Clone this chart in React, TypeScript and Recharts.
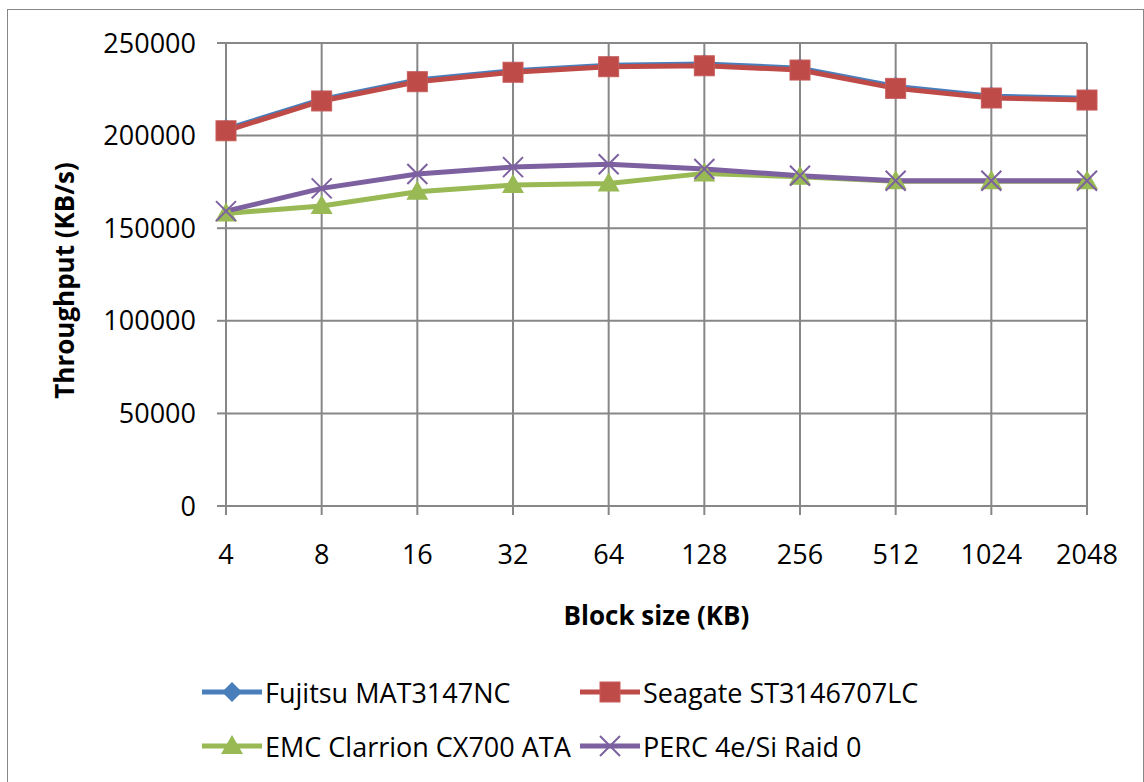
import { CartesianGrid, Label, Line, LineChart, XAxis, YAxis } from 'recharts';

const blockSizes = ['4', '8', '16', '32', '64', '128', '256', '512', '1024', '2048'];
const fujitsu = [203500, 219500, 230000, 235000, 238000, 238700, 236400, 226500, 221200, 220200];
const seagate = [202600, 218700, 229100, 234200, 237200, 237700, 235400, 225500, 220300, 219200];
const emc = [158000, 162000, 169700, 173300, 174200, 179600, 177800, 175300, 175300, 175300];
const perc = [159200, 171500, 179300, 183000, 184500, 182000, 178300, 175600, 175600, 175600];
const yTicks = [0, 50000, 100000, 150000, 200000, 250000];

const FONT = "'Open Sans', sans-serif";
const GRID = '#878787';

type Marker = 'diamond' | 'square' | 'triangle' | 'cross';

const SERIES: { key: string; label: string; color: string; marker: Marker; values: number[] }[] = [
  { key: 'fujitsu', label: 'Fujitsu MAT3147NC', color: '#4a7ebb', marker: 'diamond', values: fujitsu },
  { key: 'seagate', label: 'Seagate ST3146707LC', color: '#be4b48', marker: 'square', values: seagate },
  { key: 'emc', label: 'EMC Clarrion CX700 ATA', color: '#98b954', marker: 'triangle', values: emc },
  { key: 'perc', label: 'PERC 4e/Si Raid 0', color: '#7d60a0', marker: 'cross', values: perc },
];

const data = blockSizes.map((block, i) => {
  const row: Record<string, string | number> = { block };
  SERIES.forEach((s) => {
    row[s.key] = s.values[i];
  });
  return row;
});

function MarkerShape({ cx, cy, marker, color }: { cx: number; cy: number; marker: Marker; color: string }) {
  if (cx == null || cy == null) return null;
  switch (marker) {
    case 'diamond':
      return <path d={`M${cx},${cy - 10}L${cx + 10},${cy}L${cx},${cy + 10}L${cx - 10},${cy}Z`} fill={color} />;
    case 'square':
      return <rect x={cx - 10} y={cy - 10} width={20} height={20} fill={color} stroke="#c65d5a" strokeWidth={1} />;
    case 'triangle':
      return <path d={`M${cx},${cy - 11}L${cx + 11},${cy + 8}L${cx - 11},${cy + 8}Z`} fill={color} />;
    case 'cross':
      return (
        <path
          d={`M${cx - 10},${cy - 10}L${cx + 10},${cy + 10}M${cx + 10},${cy - 10}L${cx - 10},${cy + 10}`}
          stroke={color}
          strokeWidth={2}
          fill="none"
        />
      );
  }
}

function YTitle({ viewBox }: any) {
  const x = viewBox.x + 56;
  const y = viewBox.y + viewBox.height / 2 + 6;
  return (
    <text
      x={x}
      y={y}
      transform={`rotate(-90 ${x} ${y})`}
      textAnchor="middle"
      dominantBaseline="central"
      fontFamily={FONT}
      fontWeight={700}
      fontSize={26}
      fill="#000"
    >
      Throughput (KB/s)
    </text>
  );
}

function XTitle({ viewBox }: any) {
  return (
    <text
      x={viewBox.x + viewBox.width / 2}
      y={viewBox.y + 109}
      textAnchor="middle"
      dominantBaseline="central"
      fontFamily={FONT}
      fontWeight={700}
      fontSize={26}
      fill="#000"
    >
      Block size (KB)
    </text>
  );
}

function LegendIcon({ color, marker }: { color: string; marker: Marker }) {
  return (
    <svg width={60} height={24} style={{ flexShrink: 0 }}>
      <line x1={0} y1={12} x2={60} y2={12} stroke={color} strokeWidth={5} />
      <MarkerShape cx={30} cy={12} marker={marker} color={color} />
    </svg>
  );
}

export default function App() {
  return (
    <div
      style={{
        position: 'absolute',
        left: 7,
        top: 9,
        width: 1135,
        height: 772,
        border: `1px solid ${GRID}`,
        fontFamily: FONT,
        background: '#fff',
      }}
    >
      <LineChart
        width={1135}
        height={772}
        data={data}
        margin={{ top: 33, right: 56, left: 0, bottom: 166 }}
      >
        <CartesianGrid stroke={GRID} strokeWidth={2} />
        <XAxis
          dataKey="block"
          height={110}
          stroke={GRID}
          strokeWidth={2}
          tickSize={9}
          tickMargin={30}
          tick={{ fill: '#000', fontSize: 27, fontFamily: FONT }}
          interval={0}
        >
          <Label content={<XTitle />} />
        </XAxis>
        <YAxis
          width={218}
          domain={[0, 250000]}
          ticks={yTicks}
          stroke={GRID}
          strokeWidth={2}
          tickSize={9}
          tickMargin={21}
          tick={{ fill: '#000', fontSize: 27, fontFamily: FONT }}
        >
          <Label content={<YTitle />} />
        </YAxis>
        {SERIES.map((s) => (
          <Line
            key={s.key}
            dataKey={s.key}
            stroke={s.color}
            strokeWidth={5}
            isAnimationActive={false}
            dot={(props: any) => (
              <MarkerShape key={`${s.key}-${props.index}`} cx={props.cx} cy={props.cy} marker={s.marker} color={s.color} />
            )}
            activeDot={false}
          />
        ))}
      </LineChart>
      <div
        style={{
          position: 'absolute',
          left: 194,
          top: 670,
          display: 'grid',
          gridTemplateColumns: '378px auto',
          rowGap: 30,
          fontSize: 27,
          color: '#000',
        }}
      >
        {SERIES.map((s) => (
          <div key={s.key} style={{ display: 'flex', alignItems: 'center', height: 24, whiteSpace: 'nowrap' }}>
            <LegendIcon color={s.color} marker={s.marker} />
            <span style={{ marginLeft: 3 }}>{s.label}</span>
          </div>
        ))}
      </div>
    </div>
  );
}
